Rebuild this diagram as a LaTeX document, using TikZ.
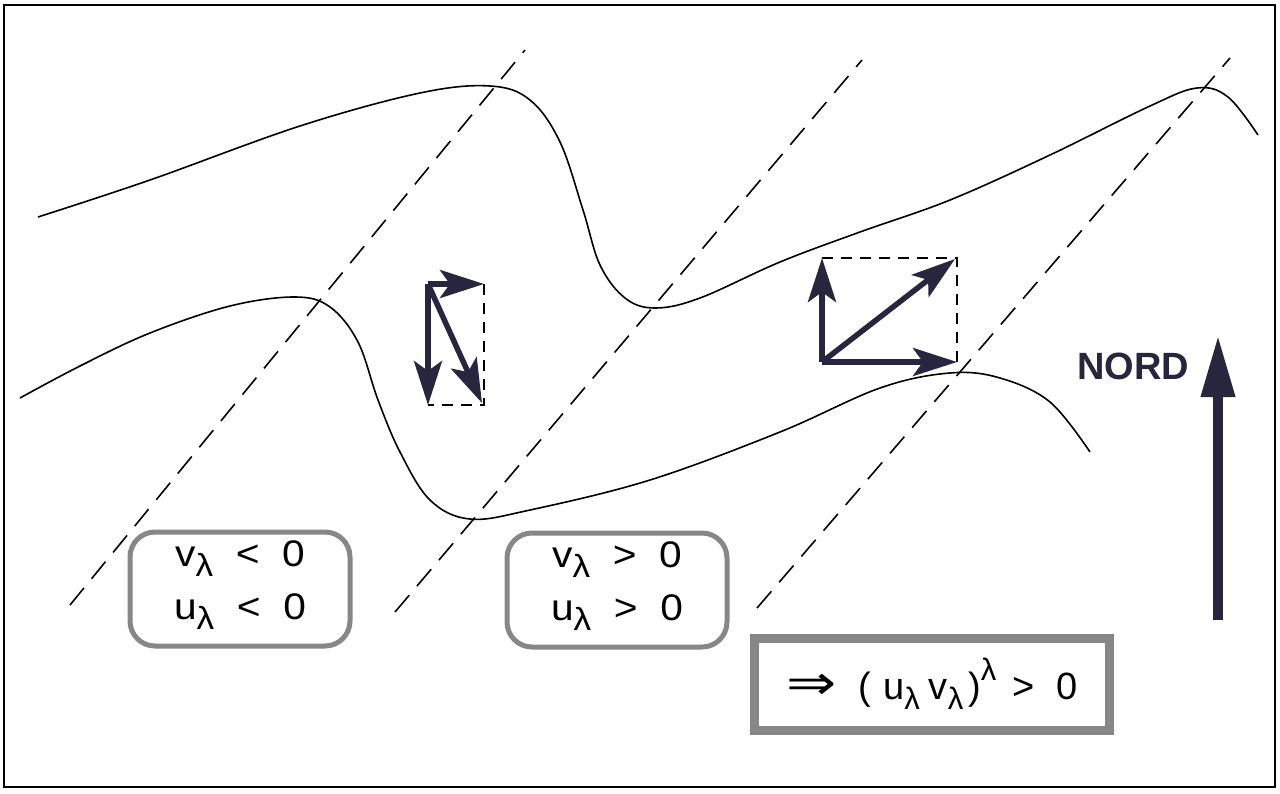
\documentclass[tikz,border=0pt]{standalone}
\usepackage{fontspec}
\setmainfont{Liberation Sans}
\newfontfamily\widefont{Liberation Sans}[FakeStretch=1.1]
\newfontfamily\symfont{DejaVu Sans}
\usetikzlibrary{arrows.meta}
\definecolor{ink}{RGB}{40,38,62}
\definecolor{boxgray}{RGB}{135,135,135}
\tikzset{
  curve/.style={line width=1.6pt, black},
  front/.style={line width=1.6pt, dash pattern=on 22pt off 12pt},
  comp/.style={line width=1.6pt, dash pattern=on 11pt off 8pt},
  vec/.style={line width=5.5pt, ink, -{Stealth[length=44pt,width=28pt,inset=10pt]}},
  signbox/.style={draw=boxgray, line width=5pt, rounded corners=25pt, minimum width=220pt, minimum height=114pt, inner ysep=0pt, align=center, font=\widefont\fontsize{37}{53}\selectfont},
  resbox/.style={draw=boxgray, line width=9pt, minimum width=355pt, minimum height=92pt, font=\fontsize{38}{46}\selectfont},
}
\newcommand{\lsub}{\raisebox{-0.55ex}{\fontsize{32}{33}\selectfont λ}}
\newcommand{\rsub}{\raisebox{-0.5ex}{\fontsize{31}{32}\selectfont λ}}
\newcommand{\rsup}{\raisebox{0.95ex}{\fontsize{31}{32}\selectfont λ}}
\newcommand{\tstrut}{\rule{0pt}{26pt}}
\newcommand{\dstrut}{\rule[-19pt]{0pt}{19pt}}
\begin{document}
\begin{tikzpicture}[x=1pt,y=-1pt]
\useasboundingbox (0,0) rectangle (1280,793);
\draw[line width=2.5pt] (4,5) rectangle (1275,787);
% upper curve
\draw[curve] plot[smooth, tension=0.6] coordinates {(38,217) (150,180) (300,126) (420,93) (490,86) (530,100) (560,142) (583,210) (600,265) (625,298) (655,308) (700,298) (780,262) (860,232) (950,200) (1050,155) (1150,106) (1197,88) (1228,97) (1258,135)};
% lower curve
\draw[curve] plot[smooth, tension=0.6] coordinates {(20,398) (80,366) (150,333) (230,306) (295,297) (330,307) (358,342) (378,400) (400,452) (430,500) (470,519) (530,510) (650,480) (780,432) (880,388) (950,373) (1000,378) (1050,402) (1090,452)};
% fronts
\draw[front] (70,605) -- (525,50);
\draw[front] (395,612) -- (862,60);
\draw[front] (757,608) -- (1230,58);
% vector set 1
\coordinate (o1) at (428,284);
\coordinate (x1) at (484,284);
\coordinate (y1) at (428,405);
\coordinate (d1) at (482,403);
\draw[comp] (x1) -- (484,405) -- (y1);
\draw[vec] (o1) -- (x1);
\draw[vec] (o1) -- (y1);
\draw[vec] (o1) -- (d1);
% vector set 2
\coordinate (o2) at (822,362);
\coordinate (x2) at (957,362);
\coordinate (y2) at (822,258);
\coordinate (d2) at (955,259);
\draw[comp] (y2) -- (957,258) -- (x2);
\draw[vec] (o2) -- (x2);
\draw[vec] (o2) -- (y2);
\draw[vec] (o2) -- (d2);
% north
\node[font=\fontsize{38}{40}\selectfont\bfseries, ink] (nord) at (1133,366) {NORD};
\coordinate (ns) at (1218,620);
\coordinate (ne) at (1218,335);
\draw[line width=10pt, ink, -{Triangle[length=62pt,width=32pt]}] (ns) -- (ne);
% boxes
\node[signbox] (b1) at (240,589) {\tstrut v\lsub\ \ <\ \ 0\\u\lsub\ \ <\ \ 0\dstrut};
\node[signbox] (b2) at (617,590) {\tstrut v\lsub\ \ >\ \ 0\\u\lsub\ \ >\ \ 0\dstrut};
\node[resbox] (b3) at (932,684) {\scalebox{1.25}[1]{\symfont\fontsize{48}{48}\selectfont ⇒}\hspace{22pt}(\hspace{12pt}u\rsub\hspace{9pt}v\rsub\hspace{5pt})\rsup\hspace{16pt}>\hspace{22pt}0};
\end{tikzpicture}
\end{document}
